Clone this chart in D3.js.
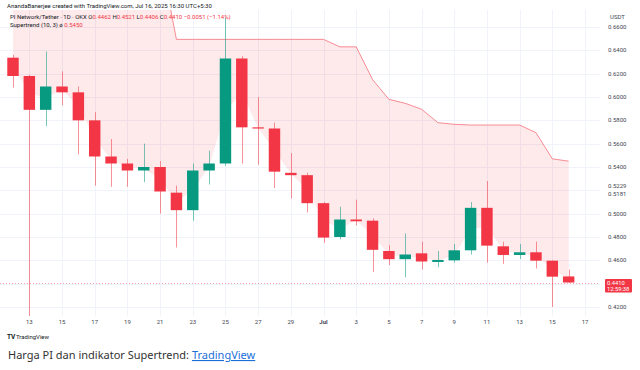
<!DOCTYPE html>
<html>
<head>
<meta charset="utf-8">
<script src="https://cdn.jsdelivr.net/npm/d3@7"></script>
<style>
body { margin: 0; background: #fff; }
svg { display: block; }
</style>
</head>
<body>
<script>
// daily candles, PI/USDT on OKX
var dates = ["2025-06-12","2025-06-13","2025-06-14","2025-06-15","2025-06-16","2025-06-17","2025-06-18",
  "2025-06-19","2025-06-20","2025-06-21","2025-06-22","2025-06-23","2025-06-24","2025-06-25","2025-06-26",
  "2025-06-27","2025-06-28","2025-06-29","2025-06-30","2025-07-01","2025-07-02","2025-07-03","2025-07-04",
  "2025-07-05","2025-07-06","2025-07-07","2025-07-08","2025-07-09","2025-07-10","2025-07-11","2025-07-12",
  "2025-07-13","2025-07-14","2025-07-15","2025-07-16"];
var open  = [0.6337,0.618,0.589,0.609,0.604,0.580,0.549,0.543,0.537,0.540,0.518,0.503,0.537,0.543,0.633,
  0.574,0.573,0.535,0.533,0.509,0.480,0.495,0.494,0.468,0.461,0.466,0.4586,0.460,0.4686,0.505,0.472,
  0.4646,0.4669,0.4597,0.4462];
var high  = [0.636,0.619,0.639,0.622,0.609,0.587,0.564,0.547,0.560,0.545,0.524,0.543,0.554,0.668,0.635,
  0.600,0.578,0.552,0.535,0.510,0.506,0.512,0.496,0.473,0.483,0.476,0.468,0.474,0.510,0.528,0.476,
  0.474,0.476,0.460,0.4521];
var low   = [0.608,0.412,0.575,0.593,0.551,0.524,0.523,0.523,0.527,0.500,0.471,0.494,0.525,0.541,0.543,
  0.542,0.522,0.513,0.501,0.475,0.478,0.490,0.450,0.456,0.4455,0.452,0.454,0.458,0.465,0.458,0.457,
  0.461,0.453,0.420,0.4406];
var close = [0.618,0.589,0.609,0.604,0.580,0.549,0.543,0.537,0.540,0.519,0.503,0.537,0.543,0.633,0.574,
  0.573,0.536,0.533,0.509,0.4795,0.495,0.4935,0.469,0.461,0.465,0.459,0.4603,0.4686,0.505,0.4726,0.4646,
  0.4669,0.4597,0.446,0.4410];
// Supertrend (10, 3), downtrend band
var supertrend = [0.722,0.722,0.722,0.722,0.722,0.722,0.722,0.722,0.722,0.722,0.6494,0.6494,0.6494,
  0.6494,0.6494,0.6494,0.6494,0.6494,0.6494,0.6494,0.643,0.643,0.615,0.598,0.5946,0.5895,0.578,0.5766,
  0.576,0.576,0.576,0.576,0.5694,0.547,0.545];

var priceTicks = [0.42,0.44,0.46,0.48,0.50,0.52,0.54,0.56,0.58,0.60,0.62,0.64,0.66];
var extraPriceLabels = [0.5229,0.5181];
var xTickDates = ["2025-06-13","2025-06-15","2025-06-17","2025-06-19","2025-06-21","2025-06-23",
  "2025-06-25","2025-06-27","2025-06-29","2025-07-01","2025-07-03","2025-07-05","2025-07-07",
  "2025-07-09","2025-07-11","2025-07-13","2025-07-15","2025-07-17"];
var xTickLabels = ["13","15","17","19","21","23","25","27","29","Jul","3","5","7","9","11","13","15","17"];

var W = 640, H = 370;
var pane = {left: 0, right: 600, top: 10, bottom: 316};
var UP = "#089981", DOWN = "#f23645";
var font = "Roboto, 'Liberation Sans', sans-serif";
var fmt = d3.format(".4f");

var parse = d3.utcParse("%Y-%m-%d");
var data = dates.map(function(d, i) {
  return {date: parse(d), o: open[i], h: high[i], l: low[i], c: close[i], st: supertrend[i]};
});

var x = d3.scaleUtc()
  .domain([parse("2025-06-12"), parse("2025-07-17")])
  .range([13, 585]);
var y = d3.scaleLinear().domain([0.42, 0.66]).range([307, 27]);
var step = x(data[1].date) - x(data[0].date);
var bw = step * 0.7;
var last = data[data.length - 1];

var svg = d3.select("body").append("svg")
  .attr("width", W)
  .attr("height", H);

svg.append("defs").append("clipPath").attr("id", "pane")
  .append("rect")
    .attr("x", pane.left).attr("y", pane.top)
    .attr("width", pane.right - pane.left).attr("height", pane.bottom - pane.top);

// grid
var grid = svg.append("g");
grid.selectAll("line.h").data(priceTicks).enter().append("line")
  .attr("x1", pane.left).attr("x2", pane.right)
  .attr("y1", d => Math.round(y(d)) + 0.5).attr("y2", d => Math.round(y(d)) + 0.5)
  .attr("stroke", "#f0f3fa");
grid.selectAll("line.v").data(xTickDates).enter().append("line")
  .attr("x1", d => Math.round(x(parse(d))) + 0.5).attr("x2", d => Math.round(x(parse(d))) + 0.5)
  .attr("y1", pane.top).attr("y2", pane.bottom)
  .attr("stroke", "#f0f3fa");

var plot = svg.append("g").attr("clip-path", "url(#pane)");

// supertrend fill and line
var area = d3.area()
  .x(d => x(d.date))
  .y0(d => y((d.o + d.c) / 2))
  .y1(d => y(d.st));
plot.append("path").datum(data)
  .attr("d", area)
  .attr("fill", "rgba(242,54,69,0.11)");

plot.append("path").datum(data)
  .attr("d", d3.line().x(d => x(d.date)).y(d => y(d.st)))
  .attr("fill", "none")
  .attr("stroke", "rgba(242,54,69,0.55)")
  .attr("stroke-width", 1);

// last price line
plot.append("line")
  .attr("x1", pane.left).attr("x2", pane.right)
  .attr("y1", Math.round(y(last.c)) + 0.5).attr("y2", Math.round(y(last.c)) + 0.5)
  .attr("stroke", "rgba(242,54,69,0.45)")
  .attr("stroke-dasharray", "1,2");

// candles
var candles = plot.selectAll("g.candle").data(data).enter().append("g");
candles.append("line")
  .attr("x1", d => Math.round(x(d.date)) + 0.5).attr("x2", d => Math.round(x(d.date)) + 0.5)
  .attr("y1", d => y(d.h)).attr("y2", d => y(d.l))
  .attr("stroke", d => d.c >= d.o ? UP : DOWN)
  .attr("stroke-opacity", 0.55);
candles.append("rect")
  .attr("x", d => x(d.date) - bw / 2)
  .attr("width", bw)
  .attr("y", d => y(Math.max(d.o, d.c)))
  .attr("height", d => Math.max(1.2, Math.abs(y(d.o) - y(d.c))))
  .attr("fill", d => d.c >= d.o ? UP : DOWN);

// price axis - regular ticks hidden where other labels sit
var busy = extraPriceLabels.concat([last.c]);
var shownTicks = priceTicks.filter(t => busy.every(b => Math.abs(y(t) - y(b)) > 7));
var axisG = svg.append("g").attr("font-family", font).attr("font-size", 6).attr("fill", "#434651");
axisG.selectAll("text.p").data(shownTicks).enter().append("text")
  .attr("x", 608).attr("y", d => y(d) + 2)
  .text(d => fmt(d));
// the two extra labels are pushed apart like TradingView does
var mid = (y(extraPriceLabels[0]) + y(extraPriceLabels[1])) / 2;
axisG.selectAll("text.e").data(extraPriceLabels).enter().append("text")
  .attr("x", 608).attr("y", (d, i) => mid + (i === 0 ? -3.9 : 3.9) + 2)
  .text(d => fmt(d));
axisG.append("text").attr("x", 610).attr("y", 19).text("USDT");

// last price tag
svg.append("rect")
  .attr("x", 605).attr("y", y(last.c) - 3.5)
  .attr("width", 27).attr("height", 13.5)
  .attr("rx", 1)
  .attr("fill", DOWN);
svg.append("text")
  .attr("x", 607).attr("y", y(last.c) + 2.2)
  .attr("font-family", font).attr("font-size", 5.8).attr("fill", "#fff")
  .text(fmt(last.c));
svg.append("text")
  .attr("x", 607).attr("y", y(last.c) + 8.4)
  .attr("font-family", font).attr("font-size", 5.8).attr("fill", "#fff")
  .text("12:59:38");

// time axis
svg.append("g").attr("font-family", font).attr("font-size", 6).attr("fill", "#434651")
  .selectAll("text").data(xTickDates).enter().append("text")
    .attr("x", d => x(parse(d)))
    .attr("y", 324)
    .attr("text-anchor", "middle")
    .attr("font-weight", (d, i) => xTickLabels[i] === "Jul" ? "bold" : null)
    .text((d, i) => xTickLabels[i]);

// header
var hdr = svg.append("g").attr("font-family", font).attr("font-size", 6).attr("fill", "#131722");
hdr.append("text").attr("x", 7).attr("y", 7.5)
  .text("AnandaBanerjee created with TradingView.com, Jul 16, 2025 16:30 UTC+5:30");
var l2 = hdr.append("text").attr("x", 10).attr("y", 18.5);
l2.append("tspan").text("PI Network/Tether \u00b7 1D \u00b7 OKX  O");
l2.append("tspan").attr("fill", DOWN).text(fmt(last.o));
l2.append("tspan").text(" H");
l2.append("tspan").attr("fill", DOWN).text(fmt(last.h));
l2.append("tspan").text(" L");
l2.append("tspan").attr("fill", DOWN).text(fmt(last.l));
l2.append("tspan").text(" C");
l2.append("tspan").attr("fill", DOWN)
  .text(fmt(last.c) + " \u22120.0051 (\u22121.14%)");
var l3 = hdr.append("text").attr("x", 10).attr("y", 27);
l3.append("tspan").text("Supertrend (10, 3)  \u00f8  ");
l3.append("tspan").attr("fill", DOWN).text(fmt(last.st));

// logo
var logo = svg.append("g").attr("font-family", font).attr("fill", "#131722");
logo.append("text").attr("x", 7).attr("y", 338.5).attr("font-size", 6.5).attr("font-weight", "bold").text("TV");
logo.append("text").attr("x", 16).attr("y", 338.5).attr("font-size", 6).text("TradingView");

// caption
var cap = svg.append("text")
  .attr("x", 8).attr("y", 359)
  .attr("font-family", "'Noto Sans', 'Open Sans', sans-serif")
  .attr("font-size", 11)
  .attr("fill", "#333");
cap.append("tspan").text("Harga PI dan indikator Supertrend: ");
cap.append("tspan").attr("fill", "#1a6fd8").attr("text-decoration", "underline").text("TradingView");
</script>
</body>
</html>
